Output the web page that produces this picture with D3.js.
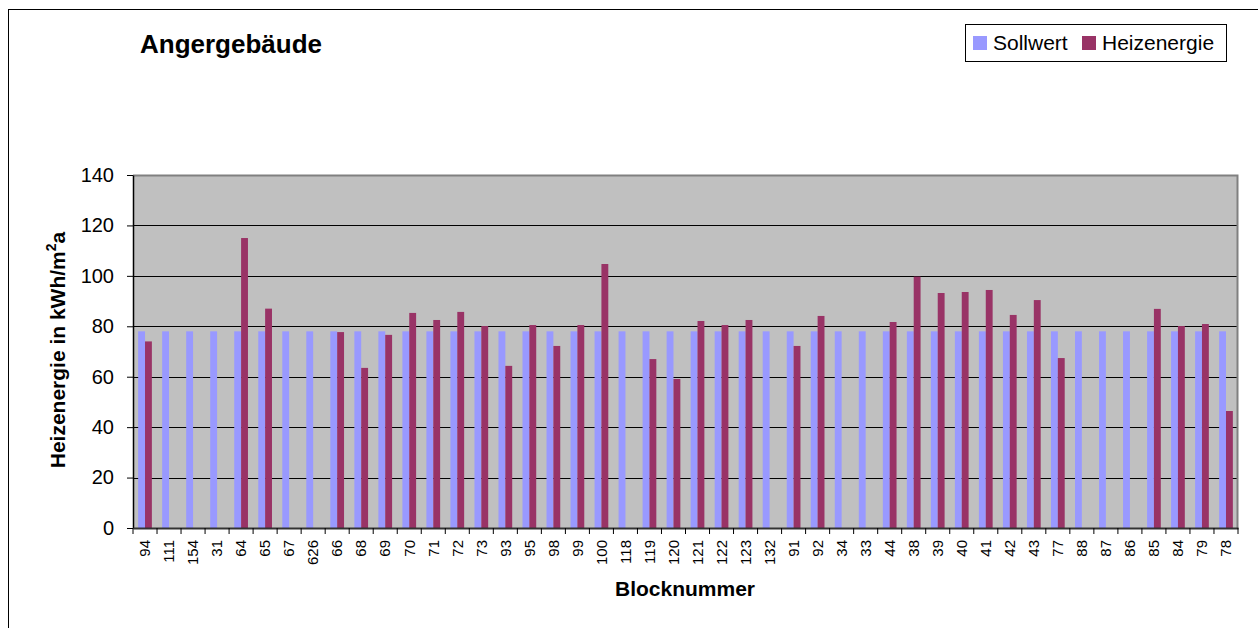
<!DOCTYPE html>
<html>
<head>
<meta charset="utf-8">
<script src="https://cdn.jsdelivr.net/npm/d3@7"></script>
<style>
  body { margin: 0; background: #fff; }
  text { font-family: "Liberation Sans", Arial, sans-serif; }
</style>
</head>
<body>
<div id="chart"></div>
<script>
// block numbers along the x axis
const categories = ['94', '111', '154', '31', '64', '65', '67', '626', '66', '68', '69', '70', '71', '72', '73',
    '93', '95', '98', '99', '100', '118', '119', '120', '121', '122', '123', '132', '91', '92', '34', '33',
    '44', '38', '39', '40', '41', '42', '43', '77', '88', '87', '86', '85', '84', '79', '78'];

// target value, same for every block
const sollwert = [78, 78, 78, 78, 78, 78, 78, 78, 78, 78, 78, 78, 78, 78, 78,
    78, 78, 78, 78, 78, 78, 78, 78, 78, 78, 78, 78, 78, 78, 78, 78,
    78, 78, 78, 78, 78, 78, 78, 78, 78, 78, 78, 78, 78, 78, 78];

// measured heating energy (null = no bar)
const heizenergie = [74, null, null, null, 115, 87, null, null, 77.7, 63.5, 76.6, 85.3, 82.5, 85.7, 80.1,
    64.3, 80.5, 72.2, 80.5, 104.7, null, 67, 59.1, 82.1, 80.5, 82.5, null, 72.2, 84.1, null, null,
    81.7, 99.7, 93.2, 93.6, 94.4, 84.5, 90.4, 67.4, null, null, null, 86.9, 80.1, 80.9, 46.4];

const yTicks = [0, 20, 40, 60, 80, 100, 120, 140];

const series = [
    { name: 'Sollwert', values: sollwert, color: '#9999ff' },
    { name: 'Heizenergie', values: heizenergie, color: '#993366' }
];

const width = 1258, height = 628;
const plotL = 133, plotR = 1238, plotT = 175, plotB = 528;
const font = '"Liberation Sans", Arial, sans-serif';

const svg = d3.select('#chart').append('svg')
    .attr('width', width)
    .attr('height', height);

// chart frame
svg.append('rect')
    .attr('x', 8.5).attr('y', 9.5)
    .attr('width', 1260).attr('height', 640)
    .attr('fill', '#fff')
    .attr('stroke', '#000');

const x = d3.scaleBand().domain(categories).range([plotL, plotR]).padding(0);
const y = d3.scaleLinear().domain([0, 140]).range([plotB, plotT]);

// bars: Excel style, gap width 150%
const barW = x.bandwidth() / 3.5;
const inner = d3.scaleBand().domain(series.map(s => s.name))
    .range([barW * 0.75, barW * 2.75]);

// plot area
svg.append('rect')
    .attr('x', plotL).attr('y', plotT)
    .attr('width', plotR - plotL).attr('height', plotB - plotT)
    .attr('fill', '#c0c0c0');

svg.append('g')
    .selectAll('line')
    .data(yTicks.filter(d => d > 0 && d < 140))
    .enter().append('line')
    .attr('x1', plotL).attr('x2', plotR)
    .attr('y1', d => Math.round(y(d)) + 0.5)
    .attr('y2', d => Math.round(y(d)) + 0.5)
    .attr('stroke', '#000');

// plot border top and right
svg.append('path')
    .attr('d', `M${plotL},${plotT + 0.5}H${plotR - 0.5}V${plotB}`)
    .attr('fill', 'none')
    .attr('stroke', '#808080')
    .attr('stroke-width', 2);

series.forEach(s => {
    svg.append('g')
        .selectAll('rect')
        .data(s.values.map((v, i) => ({ cat: categories[i], v })).filter(d => d.v != null))
        .enter().append('rect')
        .attr('x', d => x(d.cat) + inner(s.name))
        .attr('width', inner.bandwidth())
        .attr('y', d => y(d.v))
        .attr('height', d => y(0) - y(d.v))
        .attr('fill', s.color);
});

// y axis
const yAxis = svg.append('g')
    .attr('transform', `translate(${plotL},0)`)
    .call(d3.axisLeft(y).tickValues(yTicks).tickSize(6).tickSizeOuter(0).tickPadding(13));
yAxis.selectAll('text').attr('font-size', 20).attr('fill', '#000')
    .style('font-family', font);
yAxis.select('.domain').attr('stroke', '#000').attr('stroke-width', 1.5);

// x axis
const xAxis = svg.append('g')
    .attr('transform', `translate(0,${plotB})`)
    .call(d3.axisBottom(x).tickSize(6).tickSizeOuter(0));
xAxis.selectAll('.tick line')
    .attr('transform', `translate(${-x.bandwidth() / 2},0)`);
xAxis.append('line')
    .attr('x1', plotR).attr('x2', plotR).attr('y1', 0).attr('y2', 6)
    .attr('stroke', '#000');
xAxis.selectAll('text')
    .attr('font-size', 15)
    .attr('fill', '#000')
    .style('font-family', font)
    .attr('text-anchor', 'end')
    .attr('transform', 'rotate(-90)')
    .attr('x', -12)
    .attr('y', 0)
    .attr('dy', '0.35em');
xAxis.select('.domain').attr('stroke', '#333').attr('stroke-width', 2);

// titles
svg.append('text')
    .attr('x', 231).attr('y', 53)
    .attr('text-anchor', 'middle')
    .attr('font-size', 26).attr('font-weight', 'bold')
    .text('Angergebäude');

svg.append('text')
    .attr('x', 685).attr('y', 596)
    .attr('text-anchor', 'middle')
    .attr('font-size', 21).attr('font-weight', 'bold')
    .text('Blocknummer');

const yTitle = svg.append('text')
    .attr('transform', 'translate(65,350) rotate(-90)')
    .attr('text-anchor', 'middle')
    .attr('font-size', 21).attr('font-weight', 'bold');
yTitle.append('tspan').text('Heizenergie in kWh/m');
yTitle.append('tspan').attr('dy', -9).attr('font-size', 14).text('2');
yTitle.append('tspan').attr('dy', 9).text('a');

// legend
const legend = svg.append('g');
legend.append('rect')
    .attr('x', 965.5).attr('y', 24.5)
    .attr('width', 261).attr('height', 37)
    .attr('fill', '#fff')
    .attr('stroke', '#000');
const legX = [973, 1082];
series.forEach((s, i) => {
    legend.append('rect')
        .attr('x', legX[i]).attr('y', 36)
        .attr('width', 14).attr('height', 14)
        .attr('fill', s.color);
    legend.append('text')
        .attr('x', legX[i] + 20).attr('y', 50)
        .attr('font-size', 21)
        .text(s.name);
});
</script>
</body>
</html>
